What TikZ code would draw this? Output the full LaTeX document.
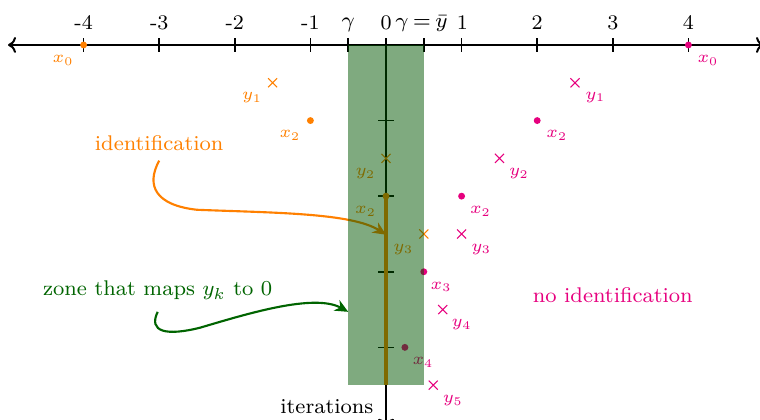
\RequirePackage{fix-cm}
\documentclass[tikz,border=0pt]{standalone}
\usepackage{fontspec}
\usetikzlibrary{arrows.meta,shapes.misc,calc}
\definecolor{pnk}{RGB}{230,0,126}
\definecolor{org}{RGB}{255,128,0}
\definecolor{dgreen}{RGB}{0,100,0}
\definecolor{zonefill}{RGB}{0,85,0}
\begin{document}
\begin{tikzpicture}[
  axisline/.style={line width=0.75pt, black},
  tickline/.style={line width=0.6pt, black},
  ptdot/.style={circle, fill, inner sep=0pt, minimum size=2.6pt},
  ptcross/.style={cross out, draw, inner sep=0pt, minimum size=3pt, line width=0.4pt},
  ptlbl/.style={inner sep=0pt, font=\fontsize{6.3}{7}\selectfont},
  ticklbl/.style={inner sep=0pt, anchor=base, font=\fontsize{7.8}{9}\selectfont},
  mathlbl/.style={inner sep=0pt, anchor=base, font=\fontsize{8.2}{10}\selectfont},
  bigtxt/.style={inner sep=0pt, anchor=base, font=\fontsize{8}{10}\selectfont},
  curvearrow/.style={line width=0.8pt, -{Stealth[length=5pt,width=4.5pt]}}
]
\useasboundingbox (-5.106,0.595) rectangle (4.947,-4.960);
\clip (-5.106,0.595) rectangle (4.947,-4.960);

% axes
\coordinate (xl) at (-5,0);
\coordinate (xr) at (5,0);
\coordinate (o) at (0,0);
\coordinate (yb) at (0,-5.05);
\draw[axisline, {To[length=3pt,width=6pt]}-{To[length=3pt,width=6pt]}] (xl) -- (xr);
\draw[axisline, -{To[length=3pt,width=6pt]}] (o) -- (yb);

% ticks on x axis
\foreach \x in {-4,-3,-2,-1,-0.5,0,0.5,1,2,3,4}
  \draw[tickline] (\x,0.09) -- (\x,-0.09);
\foreach \x/\t in {-4/-4,-3/-3,-2/-2,-1/-1,2/2,3/3,4/4}
  \node[ticklbl] (t\x) at (\x,0.21) {\t};
\node[ticklbl] (t1) at (1.01,0.21) {1};
\node[ticklbl] (t0) at (0,0.21) {0};
\node[mathlbl] (gl) at (-0.5,0.23) {$\gamma$};
\node[mathlbl, font=\fontsize{7.8}{10}\selectfont] (gr) at (0.47,0.23) {$\gamma\,{=}\,\bar{y}$};

% ticks on iteration axis
\foreach \k in {1,2,3,4}
  \draw[tickline] (-0.1,-\k) -- (0.1,-\k);

% orange sequence
\node[ptdot, org] (ox0) at (-4,0) {};
\node[ptcross, org] (oy1) at (-1.5,-0.5) {};
\node[ptdot, org] (ox2) at (-1,-1) {};
\node[ptcross, org] (oy2) at (0,-1.5) {};
\node[ptdot, org] (ox2b) at (0,-2) {};
\node[ptcross, org] (oy3) at (0.5,-2.5) {};
\node[ptlbl, org] at ($(ox0)+(-0.27,-0.2)$) {$x_0$};
\node[ptlbl, org] at ($(oy1)+(-0.27,-0.2)$) {$y_1$};
\node[ptlbl, org] at ($(ox2)+(-0.27,-0.2)$) {$x_2$};
\node[ptlbl, org] at ($(oy2)+(-0.27,-0.2)$) {$y_2$};
\node[ptlbl, org] at ($(ox2b)+(-0.27,-0.2)$) {$x_2$};
\node[ptlbl, org] at ($(oy3)+(-0.27,-0.2)$) {$y_3$};
\coordinate (obot) at (0,-4.5);
\draw[org, line width=1.2pt] (ox2b.center) -- (obot);

% magenta sequence
\node[ptdot, pnk] (mx0) at (4,0) {};
\node[ptcross, pnk] (my1) at (2.5,-0.5) {};
\node[ptdot, pnk] (mx2) at (2,-1) {};
\node[ptcross, pnk] (my2) at (1.5,-1.5) {};
\node[ptdot, pnk] (mx2b) at (1,-2) {};
\node[ptcross, pnk] (my3) at (1,-2.5) {};
\node[ptdot, pnk] (mx3) at (0.5,-3) {};
\node[ptcross, pnk] (my4) at (0.75,-3.5) {};
\node[ptdot, pnk] (mx4) at (0.25,-4) {};
\node[ptcross, pnk] (my5) at (0.625,-4.5) {};
\node[ptlbl, pnk] at ($(mx0)+(0.26,-0.2)$) {$x_0$};
\node[ptlbl, pnk] at ($(my1)+(0.27,-0.19)$) {$y_1$};
\node[ptlbl, pnk] at ($(mx2)+(0.26,-0.2)$) {$x_2$};
\node[ptlbl, pnk] at ($(my2)+(0.26,-0.2)$) {$y_2$};
\node[ptlbl, pnk] at ($(mx2b)+(0.25,-0.2)$) {$x_2$};
\node[ptlbl, pnk] at ($(my3)+(0.26,-0.2)$) {$y_3$};
\node[ptlbl, pnk] at ($(mx3)+(0.23,-0.2)$) {$x_3$};
\node[ptlbl, pnk] at ($(my4)+(0.25,-0.2)$) {$y_4$};
\node[ptlbl, pnk] at ($(mx4)+(0.24,-0.2)$) {$x_4$};
\node[ptlbl, pnk] at ($(my5)+(0.26,-0.2)$) {$y_5$};

% texts
\node[bigtxt, org] (ident) at (-3.0,-1.39) {identification};
\node[bigtxt, dgreen] (zone) at (-3.02,-3.32) {zone that maps $y_k$ to $0$};
\node[bigtxt, pnk] (noid) at (3.0,-3.40) {no identification};
\node[bigtxt, anchor=base east] (iter) at (-0.16,-4.88) {iterations};

% curved arrows
\coordinate (idstart) at (-3.0,-1.53);
\coordinate (idmid) at (-2.5,-2.18);
\coordinate (idend) at (0,-2.51);
\draw[curvearrow, org] (idstart) .. controls (-3.18,-1.86) and (-3.05,-2.12) .. (idmid)
  .. controls (-1.5,-2.22) and (-0.45,-2.22) .. (idend);
\coordinate (zstart) at (-3.02,-3.53);
\coordinate (zmid) at (-2.46,-3.74);
\coordinate (zend) at (-0.5,-3.53);
\draw[curvearrow, dgreen] (zstart) .. controls (-3.15,-3.8) and (-2.9,-3.85) .. (zmid)
  .. controls (-1.85,-3.56) and (-0.95,-3.28) .. (zend);

% zone
\fill[zonefill, fill opacity=0.5] (-0.5,0) rectangle (0.5,-4.5);
\end{tikzpicture}
\end{document}
